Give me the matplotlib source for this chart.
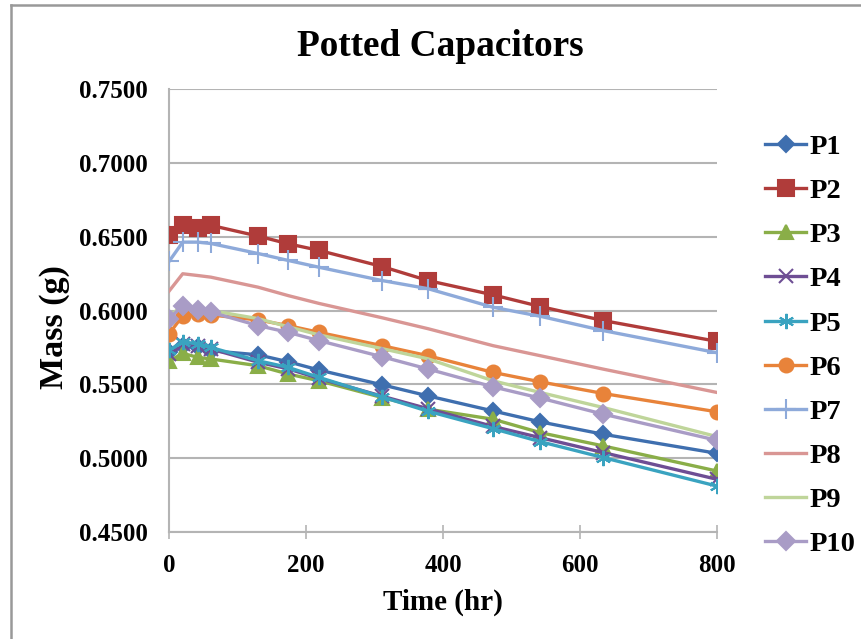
import matplotlib
matplotlib.use("Agg")
import matplotlib.pyplot as plt
from matplotlib.lines import Line2D

plt.rcParams['font.family'] = ['Liberation Serif', 'DejaVu Serif']
plt.rcParams['font.weight'] = 'bold'

# Time points (hr) and mass readings (g)
time = [0, 20, 42, 61, 130, 174, 219, 311, 378, 473, 542, 634, 800]
p1 = [0.5717, 0.5762, 0.5750, 0.5728, 0.5700, 0.5653, 0.5597, 0.5497, 0.5422, 0.5320, 0.5246, 0.5162, 0.5033]
p2 = [0.6509, 0.6577, 0.6558, 0.6577, 0.6504, 0.6452, 0.6407, 0.6298, 0.6203, 0.6106, 0.6027, 0.5932, 0.5791]
p3 = [0.5656, 0.5710, 0.5683, 0.5672, 0.5626, 0.5570, 0.5524, 0.5411, 0.5332, 0.5264, 0.5173, 0.5083, 0.4913]
p4 = [0.5705, 0.5775, 0.5760, 0.5740, 0.5650, 0.5605, 0.5540, 0.5420, 0.5335, 0.5215, 0.5139, 0.5038, 0.4857]
p5 = [0.5730, 0.5789, 0.5773, 0.5750, 0.5660, 0.5615, 0.5547, 0.5415, 0.5318, 0.5200, 0.5112, 0.5004, 0.4811]
p6 = [0.5841, 0.5965, 0.5977, 0.5970, 0.5936, 0.5898, 0.5852, 0.5762, 0.5694, 0.5581, 0.5517, 0.5438, 0.5314]
p7 = [0.6332, 0.6463, 0.6463, 0.6454, 0.6386, 0.6339, 0.6293, 0.6203, 0.6148, 0.6022, 0.5961, 0.5864, 0.5714]
p8 = [0.6131, 0.6249, 0.6237, 0.6226, 0.6158, 0.6101, 0.6048, 0.5951, 0.5877, 0.5762, 0.5694, 0.5603, 0.5445]
p9 = [0.5955, 0.6040, 0.6012, 0.6000, 0.5945, 0.5890, 0.5835, 0.5742, 0.5673, 0.5524, 0.5445, 0.5343, 0.5146]
p10 = [0.5943, 0.6034, 0.6005, 0.5989, 0.5898, 0.5852, 0.5796, 0.5687, 0.5604, 0.5483, 0.5407, 0.5298, 0.5121]

labels = ['P1', 'P2', 'P3', 'P4', 'P5', 'P6', 'P7', 'P8', 'P9', 'P10']
series = [p1, p2, p3, p4, p5, p6, p7, p8, p9, p10]
colors = ['#3F6FAF', '#B03C3A', '#8AAE48', '#6E4E94', '#3AA3C0',
          '#E8833A', '#8EAADA', '#D99694', '#BFD59A', '#A99CC6']
markers = ['D', 's', '^', 'x', (6, 2, 0), 'o', '+', None, None, 'D']
msizes = [8, 11, 10, 10, 11, 10, 14, 0, 0, 9]

fig = plt.figure(figsize=(8.61, 6.39), dpi=100)
ax = fig.add_axes([0.1963, 0.1674, 0.6365, 0.6933])

for y, lab, c, m, ms in zip(series, labels, colors, markers, msizes):
    ax.plot(time, y, color=c, lw=2.4, marker=m, ms=ms, mew=1.5,
            label=lab, zorder=3)

ax.set_xlim(0, 800)
ax.set_ylim(0.45, 0.75)
ax.set_xticks([0, 200, 400, 600, 800])
ax.set_yticks([0.45, 0.50, 0.55, 0.60, 0.65, 0.70, 0.75])
ax.yaxis.set_major_formatter(matplotlib.ticker.FormatStrFormatter('%.4f'))
ax.grid(axis='y', color='#B4B4B4', lw=1.5)
ax.set_axisbelow(True)
for s in ['top', 'right']:
    ax.spines[s].set_visible(False)
for s in ['left', 'bottom']:
    ax.spines[s].set_color('#B4B4B4')
    ax.spines[s].set_linewidth(1.5)
ax.tick_params(axis='x', direction='inout', length=10, width=1.2,
               color='#B4B4B4', labelsize=18, pad=11)
ax.tick_params(axis='y', length=0, labelsize=18, pad=15.5)

ax.set_xlabel('Time (hr)', fontsize=21, fontweight='bold', labelpad=8)
fig.text(55 / 861, 1 - 327 / 639, 'Mass (g)', fontsize=24.5, fontweight='bold',
         rotation=90, ha='center', va='center')
fig.text(0.511, 0.928, 'Potted Capacitors', fontsize=26.8, fontweight='bold',
         ha='center', va='center')

fig.legend(loc='center left', bbox_to_anchor=(0.872, 0.459), frameon=False,
           fontsize=20.5, handlelength=1.45, handletextpad=0.1,
           labelspacing=0.64, borderpad=0)

# chart area border (top and left edges)
fig.add_artist(Line2D([11 / 861, 11 / 861], [0, 1 - 5 / 639],
                      transform=fig.transFigure, color='#999999', lw=1.8))
fig.add_artist(Line2D([11 / 861, 1], [1 - 5 / 639, 1 - 5 / 639],
                      transform=fig.transFigure, color='#999999', lw=1.8))

plt.savefig('out.png', dpi=100)
